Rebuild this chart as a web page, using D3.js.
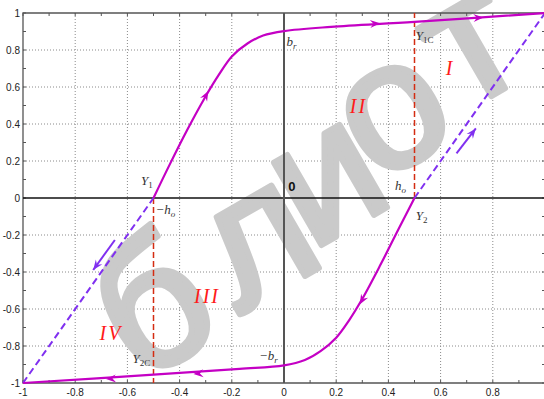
<!DOCTYPE html>
<html>
<head>
<meta charset="utf-8">
<script src="https://cdn.jsdelivr.net/npm/d3@7"></script>
<style>
  body { margin: 0; background: #fff; }
  svg { display: block; }
  .tick-label { font-family: "Liberation Sans", Arial, sans-serif; font-size: 10px; fill: #222; }
  .math { font-family: "Liberation Serif", "DejaVu Serif", serif; font-style: italic; font-size: 13px; fill: #333; }
  .zone { font-family: "Liberation Serif", serif; font-style: italic; font-size: 20px; fill: #ff1a1a; }
</style>
</head>
<body>
<svg id="chart" width="544" height="399"></svg>
<script>
// axis ticks
const xTicks = [-1, -0.8, -0.6, -0.4, -0.2, 0, 0.2, 0.4, 0.6, 0.8];
const yTicks = [1, 0.8, 0.6, 0.4, 0.2, 0, -0.2, -0.4, -0.6, -0.8, -1];
const minorTicks = d3.range(-10, 11).map(d => d / 10);

// ascending branch Y1 -> b_r -> saturation
const upperBranch = [
  [-0.5, 0], [-0.44, 0.175], [-0.37, 0.37], [-0.30, 0.55], [-0.25, 0.665], [-0.20, 0.765],
  [-0.14, 0.835], [-0.08, 0.878], [0, 0.902], [0.18, 0.925], [0.5, 0.952], [1, 1]
];
// descending branch Y2 -> -b_r -> saturation
const lowerBranch = [
  [0.5, 0], [0.44, -0.165], [0.37, -0.36], [0.30, -0.545], [0.25, -0.66], [0.20, -0.755],
  [0.14, -0.828], [0.08, -0.876], [0, -0.905], [-0.17, -0.924], [-0.5, -0.955], [-1, -1]
];
// reversible (dashed) parts
const dashedLeft = [[-1, -1], [-0.5, 0]];
const dashedRight = [[0.5, 0], [1, 1]];
// coercive levels
const redLeft = [[-0.5, 0], [-0.5, -1]];
const redRight = [[0.5, 0], [0.5, 1]];

// arrows on the curves: [from, to]
const curveArrows = [
  [[-0.32, 0.50], [-0.29, 0.578]],
  [[0.32, 0.939], [0.368, 0.944]],
  [[0.72, 0.972], [0.764, 0.976]],
  [[0.32, -0.50], [0.29, -0.575]],
  [[-0.30, -0.947], [-0.347, -0.951]],
  [[-0.64, -0.975], [-0.682, -0.978]]
];
// arrows beside the dashed lines
const sideArrows = [
  [[0.661, 0.241], [0.735, 0.376]],
  [[-0.648, -0.227], [-0.731, -0.389]]
];

const PLOT = { left: 23, right: 545, top: 13, bottom: 383 };
const svg = d3.select('#chart');

const xScale = d3.scaleLinear().domain([-1, 1]).range([PLOT.left, PLOT.right]);
const yScale = d3.scaleLinear().domain([-1, 1]).range([PLOT.bottom, PLOT.top]);

const line = d3.line()
  .x(d => xScale(d[0]))
  .y(d => yScale(d[1]));
const smooth = d3.line()
  .x(d => xScale(d[0]))
  .y(d => yScale(d[1]))
  .curve(d3.curveCatmullRom.alpha(0.5));

// grid
const grid = svg.append('g');
grid.selectAll('.vgrid')
  .data(xTicks.filter(d => d !== 0 && d !== -1))
  .enter().append('line')
  .attr('x1', d => xScale(d)).attr('x2', d => xScale(d))
  .attr('y1', yScale(1)).attr('y2', yScale(-1))
  .attr('stroke', '#8a8a8a').attr('stroke-dasharray', '1,2');
grid.selectAll('.hgrid')
  .data(yTicks.filter(d => Math.abs(d) !== 1 && d !== 0))
  .enter().append('line')
  .attr('x1', xScale(-1)).attr('x2', xScale(1))
  .attr('y1', d => yScale(d)).attr('y2', d => yScale(d))
  .attr('stroke', '#8a8a8a').attr('stroke-dasharray', '1,2');

// watermark, letter by letter (placed by x-height centre)
const wmSize = 180;
const watermark = [
  { ch: 'б', x: 158, y: 316 },
  { ch: 'л', x: 260, y: 246 },
  { ch: 'и', x: 330, y: 184 },
  { ch: 'о', x: 395, y: 117 },
  { ch: 'т', x: 474, y: 50 }
];
svg.append('g')
  .selectAll('text')
  .data(watermark)
  .enter().append('text')
  .attr('transform', d => `translate(${d.x},${d.y}) rotate(-30)`)
  .attr('y', wmSize * 0.27)
  .attr('text-anchor', 'middle')
  .attr('font-family', 'Liberation Sans, Arial, sans-serif')
  .attr('font-size', wmSize)
  .attr('fill', '#cacaca')
  .attr('stroke', '#cacaca')
  .attr('stroke-width', 6)
  .attr('stroke-linejoin', 'round')
  .text(d => d.ch);

// frame and minor ticks
const frame = svg.append('g');
frame.append('path')
  .attr('d', `M${xScale(1)},${yScale(1)}H${xScale(-1)}V${yScale(-1)}H${xScale(1)}`)
  .attr('fill', 'none').attr('stroke', '#555').attr('stroke-width', 1.3);
frame.selectAll('.tb')
  .data(minorTicks)
  .enter().append('path')
  .attr('d', d => `M${xScale(d)},${yScale(1)}v3M${xScale(d)},${yScale(-1)}v-3`)
  .attr('stroke', '#555');
frame.selectAll('.lr')
  .data(minorTicks)
  .enter().append('path')
  .attr('d', d => `M${xScale(-1)},${yScale(d)}h3M${xScale(1)},${yScale(d)}h-3`)
  .attr('stroke', '#555');

// tick labels
svg.selectAll('.xl')
  .data(xTicks)
  .enter().append('text')
  .attr('class', 'tick-label')
  .attr('x', d => xScale(d)).attr('y', 396)
  .attr('text-anchor', 'middle')
  .text(d => String(d));
svg.selectAll('.yl')
  .data(yTicks)
  .enter().append('text')
  .attr('class', 'tick-label')
  .attr('x', 20).attr('y', d => yScale(d) + 3.5)
  .attr('text-anchor', 'end')
  .text(d => String(d));

// zero axes
svg.append('line')
  .attr('x1', xScale(-1)).attr('x2', xScale(1))
  .attr('y1', yScale(0)).attr('y2', yScale(0))
  .attr('stroke', '#111').attr('stroke-width', 1.5);
svg.append('line')
  .attr('x1', xScale(0)).attr('x2', xScale(0))
  .attr('y1', yScale(1)).attr('y2', yScale(-1))
  .attr('stroke', '#555').attr('stroke-width', 2);

// coercive dashed red
[redLeft, redRight].forEach(seg => {
  svg.append('path').attr('d', line(seg))
    .attr('fill', 'none').attr('stroke', '#d42c12').attr('stroke-width', 1.5)
    .attr('stroke-dasharray', '6,3');
});

// dashed reversible lines
[dashedLeft, dashedRight].forEach(seg => {
  svg.append('path').attr('d', line(seg))
    .attr('fill', 'none').attr('stroke', '#8030f0').attr('stroke-width', 2)
    .attr('stroke-dasharray', '7,4');
});

// hysteresis branches
[upperBranch, lowerBranch].forEach(br => {
  svg.append('path').attr('d', smooth(br))
    .attr('fill', 'none').attr('stroke', '#c400c4').attr('stroke-width', 2.2);
});

const arrowHead = (from, to, color) => {
  const x0 = xScale(from[0]), y0 = yScale(from[1]);
  const x1 = xScale(to[0]), y1 = yScale(to[1]);
  const a = Math.atan2(y1 - y0, x1 - x0);
  const len = 10, w = 4;
  const bx = x1 - len * Math.cos(a), by = y1 - len * Math.sin(a);
  const nx = -Math.sin(a) * w, ny = Math.cos(a) * w;
  svg.append('path')
    .attr('d', `M${x1},${y1}L${bx + nx},${by + ny}L${bx + 0.35 * len * Math.cos(a)},${by + 0.35 * len * Math.sin(a)}L${bx - nx},${by - ny}Z`)
    .attr('fill', color);
};

curveArrows.forEach(d => arrowHead(d[0], d[1], '#c400c4'));
sideArrows.forEach(d => {
  svg.append('path').attr('d', line(d))
    .attr('stroke', '#8030f0').attr('stroke-width', 2);
  arrowHead(d[0], d[1], '#8030f0');
});

// annotations
const addMath = (x, y, main, sub, subItalic) => {
  const t = svg.append('text').attr('class', 'math').attr('x', x).attr('y', y);
  t.append('tspan').text(main);
  t.append('tspan').attr('dy', 3).attr('font-size', 9)
    .attr('font-style', subItalic ? 'italic' : 'normal').text(sub);
};
addMath(xScale(0.01), yScale(0.82), 'b', 'r', true);
addMath(xScale(0.505), yScale(0.855), 'Y', '1C', false);
addMath(xScale(-0.548), yScale(0.07), 'Y', '1', false);
addMath(xScale(-0.492), yScale(-0.085), '\u2212h', 'o', true);
addMath(xScale(0.425), yScale(0.045), 'h', 'o', true);
addMath(xScale(0.505), yScale(-0.12), 'Y', '2', false);
addMath(xScale(-0.58), yScale(-0.89), 'Y', '2C', false);
addMath(xScale(-0.096), yScale(-0.875), '\u2212b', 'r', true);

svg.append('text')
  .attr('x', xScale(0.03)).attr('y', yScale(0.04))
  .attr('font-family', 'Liberation Sans, Arial, sans-serif')
  .attr('font-weight', 'bold').attr('font-size', 13).attr('fill', '#111')
  .attr('text-anchor', 'middle')
  .text('0');

const zones = [
  { label: 'I', x: 0.636, y: 0.665 },
  { label: 'II', x: 0.285, y: 0.46 },
  { label: 'III', x: -0.295, y: -0.565 },
  { label: 'IV', x: -0.663, y: -0.765 }
];
svg.selectAll('.zone')
  .data(zones)
  .enter().append('text')
  .attr('class', 'zone')
  .attr('x', d => xScale(d.x)).attr('y', d => yScale(d.y))
  .attr('text-anchor', 'middle')
  .attr('letter-spacing', 2)
  .text(d => d.label);
</script>
</body>
</html>
